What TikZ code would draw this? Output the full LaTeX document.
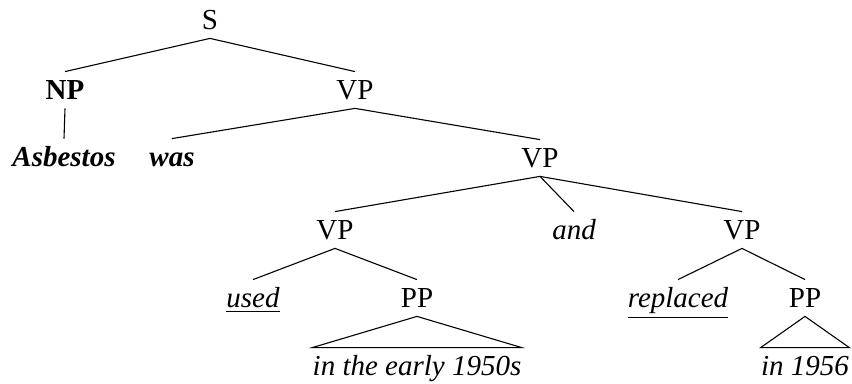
\documentclass[tikz,border=0pt]{standalone}
\usepackage{fontspec}
\setmainfont{Liberation Serif}
\usetikzlibrary{positioning}

\begin{document}
\begin{tikzpicture}[
    x=0.5pt, y=-0.5pt,
    font=\fontsize{14.5}{16}\selectfont,
    cat/.style={anchor=base, inner xsep=0pt, inner ysep=4pt, text height=10pt, text depth=0pt},
    word/.style={cat, font=\fontsize{14.5}{16}\selectfont\itshape},
    branch/.style={line width=0.55pt},
    roof/.style={line width=0.55pt}
]
    \useasboundingbox (0,0) rectangle (852,384);

    % top of the tree
    \node [cat] (S) at (210,30) {S};
    \node [cat] (NP) at (65,100) {\textbf{NP}};
    \node [cat] (VPa) at (355,100) {VP};

    \node [word] (asb) at (64,167) {\textbf{Asbestos}};
    \node [word] (was) at (172,167) {\textbf{was}};
    \node [cat] (VPb) at (540,168) {VP};

    % coordination
    \node [cat] (VPc) at (335,240) {VP};
    \node [word] (and) at (574,240) {and};
    \node [cat] (VPd) at (742,240) {VP};

    \node [word] (used) at (253,308) {\underline{used}};
    \node [cat] (PPa) at (417,308) {PP};
    \node [word] (repl) at (678,308) {\underline{replaced}};
    \node [cat] (PPb) at (805,308) {PP};

    \node [word] (early) at (417,376) {in the early 1950s};
    \node [word] (year) at (805,376) {in 1956};

    \draw [branch] (S.south) -- (NP.north);
    \draw [branch] (S.south) -- (VPa.north);
    \draw [branch] (NP.south) -- (asb.north);
    \draw [branch] (VPa.south) -- (was.north);
    \draw [branch] (VPa.south) -- (VPb.north);

    \draw [branch] (VPb.south) -- (VPc.north);
    \draw [branch] (VPb.south) -- (and.north);
    \draw [branch] (VPb.south) -- (VPd.north);

    \draw [branch] (VPc.south) -- (used.north);
    \draw [branch] (VPc.south) -- (PPa.north);
    \draw [branch] (VPd.south) -- (repl.north);
    \draw [branch] (VPd.south) -- (PPb.north);

    % roofs over the PPs
    \draw [roof] (PPa.south) -- (early.north west) -- (early.north east) -- cycle;
    \draw [roof] (PPb.south) -- (year.north west) -- (year.north east) -- cycle;

\end{tikzpicture}
\end{document}
